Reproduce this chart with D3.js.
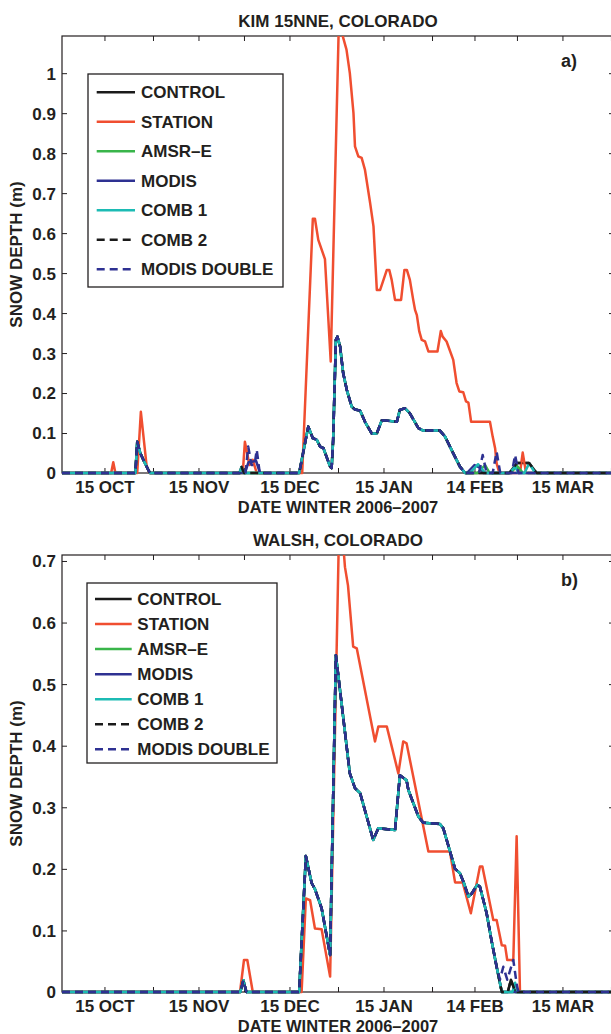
<!DOCTYPE html>
<html><head><meta charset="utf-8">
<script src="https://cdn.jsdelivr.net/npm/d3@7"></script>
<style>
body{margin:0;background:#fff;}
text{font-family:"Liberation Sans",Arial,Helvetica,sans-serif;font-weight:bold;fill:#231f20;}
</style></head><body>
<svg id="c" width="611" height="1034"></svg>
<script>
// ---------------- DATA ----------------
const seasonStart = "2006-10-01";   // day 0 of the day offsets below
const seasonEnd = "2007-04-01";
const seriesNames = ["CONTROL","STATION","AMSR\u2013E","MODIS","COMB 1","COMB 2","MODIS DOUBLE"];
const seriesColors = ["#1a1a1a","#f04e30","#39b54a","#2e3192","#1cbbb4","#1a1a1a","#2e3192"];
const seriesDash = [null,null,null,null,null,"8,5","8,5"];

const xTickDates = ["2006-10-15","2006-10-31","2006-11-15","2006-11-30","2006-12-15","2006-12-31","2007-01-15","2007-01-31","2007-02-14","2007-02-28","2007-03-15","2007-03-31"];
const xTickLabels = ["15 OCT","","15 NOV","","15 DEC","","15 JAN","","14 FEB","","15 MAR",""];
const yTicksTop = [0,0.1,0.2,0.3,0.4,0.5,0.6,0.7,0.8,0.9,1];
const yTickLabelsTop = ["0","0.1","0.2","0.3","0.4","0.5","0.6","0.7","0.8","0.9","1"];
const yTicksBot = [0,0.1,0.2,0.3,0.4,0.5,0.6,0.7];
const yTickLabelsBot = ["0","0.1","0.2","0.3","0.4","0.5","0.6","0.7"];

// a) KIM 15NNE — station
const topStationDay = [0,16.2,16.9,17.6,24.8,26,27.9,28.8,59.6,60.3,61.8,62.9,64.2,79.2,82.7,83.4,84.5,86.7,88.6,91.2,92.3,93.8,94.9,96.1,96.6,97.7,98.8,99.9,101.6,102.7,103.8,104.9,107.1,107.9,108.7,109.8,111.8,112.9,113.7,114.7,115.8,116.4,117,117.8,118.6,119.7,120.8,123.8,124.9,125.5,126.8,129,130.1,131,132.3,133.2,134,134.9,141.1,142,142.8,143.3,144.2,151,151.9,153,181];
const topStationVal = [0,0,0.027,0,0,0.153,0.018,0,0,0.078,0.02,0.033,0,0,0.636,0.636,0.583,0.535,0.279,1.10,1.10,1.059,1.0,0.9,0.817,0.792,0.788,0.758,0.675,0.617,0.458,0.458,0.508,0.508,0.483,0.433,0.433,0.508,0.508,0.483,0.433,0.408,0.395,0.354,0.333,0.329,0.304,0.304,0.355,0.341,0.329,0.283,0.225,0.204,0.202,0.179,0.176,0.128,0.128,0.091,0.062,0.024,0,0,0.051,0,0];
// a) model runs — common trace
const topModelDay = [0,24.2,24.8,25.8,27,28.3,29,78.2,81.2,82.7,84,85.1,86.2,88.4,88.9,89.4,90.3,90.8,91.7,92.7,93.9,95.5,96.6,98.3,99.9,102.1,103.8,105.4,107.1,110.4,111.4,113.1,114.7,117.5,119.1,124.6,126.3,129,131.2,132.9];
const topModelVal = [0,0,0.078,0.05,0.03,0.01,0,0,0.116,0.087,0.083,0.066,0.062,0.016,0.012,0.083,0.333,0.341,0.316,0.25,0.208,0.166,0.159,0.156,0.128,0.099,0.099,0.131,0.131,0.128,0.158,0.162,0.149,0.112,0.106,0.106,0.091,0.049,0.016,0];
// a) model runs — where they differ
const topControlDay = [58.5,59.2,60,147.5,150,154,156.5,181];
const topControlVal = [0,0.015,0,0,0.025,0.025,0,0];
const topAmsrDay = [137,139.5,141,148,150,152,181];
const topAmsrVal = [0,0.02,0,0,0.018,0,0];
const topModisDay = [60.3,61.5,64,65.3,133.5,136,138,139,181];
const topModisVal = [0,0.027,0.03,0,0,0.02,0.012,0,0];
const topComb1Day = [58.5,59.2,60,134.5,137.2,139.5,147.5,149.4,150.5,152.5,154,156,181];
const topComb1Val = [0,0.015,0,0,0.022,0,0,0.016,0,0,0.024,0,0];
const topComb2Day = [58.5,59.2,60,147.5,150,154,156.5,181];
const topComb2Val = [0,0.015,0,0,0.025,0.025,0,0];
const topDoubleDay = [60.5,61.4,62.5,63.5,64.2,65.2,137.5,138.7,140,142,143.3,144.5,148.3,149.4,150.5,181];
const topDoubleVal = [0,0.066,0.02,0.02,0.058,0,0,0.045,0,0,0.053,0,0,0.045,0,0];

// b) WALSH — station
const botStationDay = [0,58.7,60,61.1,62.9,79,80.4,81.8,83.4,85.6,88.4,91.3,92.5,93.3,94.3,96,97.2,103.2,104.3,107.1,110.9,112.5,113.6,120.8,127.9,129.6,132.1,134.8,137.8,138.6,142.2,143.3,145,146.1,146.8,148.8,149.9,151,181];
const botStationVal = [0,0,0.052,0.052,0,0,0.152,0.149,0.103,0.102,0.025,0.74,0.74,0.69,0.66,0.561,0.558,0.407,0.431,0.431,0.355,0.407,0.404,0.228,0.228,0.178,0.178,0.128,0.204,0.204,0.117,0.117,0.076,0.075,0.052,0.052,0.253,0,0];
// b) model runs — common trace
const botModelDay = [0,58.8,59.8,60.8,78.2,80.4,82.3,83.4,85.6,88.4,90.3,94.9,96.6,98.3,102.6,104.3,109.8,111.4,113.6,114.2,117.5,119.1,124.6,125.7,129.6,131.2,132.5,134,135.1,136.9,137.8,140,141.6,143.3];
const botModelVal = [0,0,0.019,0,0,0.221,0.177,0.167,0.136,0.06,0.547,0.355,0.331,0.323,0.247,0.266,0.263,0.352,0.344,0.328,0.285,0.275,0.273,0.266,0.2,0.193,0.177,0.155,0.16,0.174,0.171,0.128,0.084,0.041];
// b) model runs — where they differ
const botControlDay = [145,147,148,149.5,181];
const botControlVal = [0,0,0.02,0,0];
const botAmsrDay = [145,181];
const botAmsrVal = [0,0];
const botModisDay = [145,181];
const botModisVal = [0,0];
const botComb1Day = [145,148.5,149.4,150.3,181];
const botComb1Val = [0,0,0.015,0,0];
const botComb2Day = [145,147,148,149.5,181];
const botComb2Val = [0,0,0.02,0,0];
const botDoubleDay = [144.4,145.5,146.8,148.8,150,150.5,181];
const botDoubleVal = [0.02,0.041,0.02,0.052,0.01,0,0];

// ---------------- BUILD ----------------
const t0 = Date.parse(seasonStart + "T00:00:00Z");
const toDate = d => new Date(t0 + d * 864e5);
const zip = (ds, vs) => ds.map((d, i) => ({date: toDate(d), day: d, v: vs[i]}));
const merge = (cd, cv, ed, ev) => zip(cd.concat(ed), cv.concat(ev)).sort((a, b) => a.day - b.day);

const panels = [
  {
    title: "KIM 15NNE, COLORADO", tag: "a)", top: 36, bottom: 473, ymax: 1.093,
    yTicks: yTicksTop, yLabels: yTickLabelsTop,
    legend: {x: 88, y: 74, w: 195, h: 213, first: 92.3, step: 29.5, lx0: 96.7, lx1: 135, tx: 141},
    series: [
      merge(topModelDay, topModelVal, topControlDay, topControlVal),
      zip(topStationDay, topStationVal),
      merge(topModelDay, topModelVal, topAmsrDay, topAmsrVal),
      merge(topModelDay, topModelVal, topModisDay, topModisVal),
      merge(topModelDay, topModelVal, topComb1Day, topComb1Val),
      merge(topModelDay, topModelVal, topComb2Day, topComb2Val),
      merge(topModelDay, topModelVal, topDoubleDay, topDoubleVal)
    ]
  },
  {
    title: "WALSH, COLORADO", tag: "b)", top: 555, bottom: 992, ymax: 0.7097,
    yTicks: yTicksBot, yLabels: yTickLabelsBot,
    legend: {x: 87, y: 583, w: 190, h: 180, first: 599, step: 25.05, lx0: 95, lx1: 131.7, tx: 137.3},
    series: [
      merge(botModelDay, botModelVal, botControlDay, botControlVal),
      zip(botStationDay, botStationVal),
      merge(botModelDay, botModelVal, botAmsrDay, botAmsrVal),
      merge(botModelDay, botModelVal, botModisDay, botModisVal),
      merge(botModelDay, botModelVal, botComb1Day, botComb1Val),
      merge(botModelDay, botModelVal, botComb2Day, botComb2Val),
      merge(botModelDay, botModelVal, botDoubleDay, botDoubleVal)
    ]
  }
];

const svg = d3.select("#c");
const X0 = 62, X1 = 614;
const x = d3.scaleUtc()
  .domain([new Date(Date.parse(seasonStart + "T00:00:00Z")), new Date(Date.parse(seasonEnd + "T00:00:00Z"))])
  .range([X0, X1]);
const tickDates = xTickDates.map(s => new Date(Date.parse(s + "T00:00:00Z")));
const FS = 17;

panels.forEach((p, pi) => {
  const y = d3.scaleLinear().domain([0, p.ymax]).range([p.bottom, p.top]);
  const g = svg.append("g");
  const TL = 5;

  // ticks (inward, all four sides)
  const bAxis = d3.axisBottom(x).tickValues(tickDates).tickFormat((d, i) => xTickLabels[i]).tickSize(-TL).tickPadding(7.5);
  const tAxis = d3.axisTop(x).tickValues(tickDates).tickFormat("").tickSize(-TL);
  const lAxis = d3.axisLeft(y).tickValues(p.yTicks).tickFormat((d, i) => p.yLabels[i]).tickSize(-TL).tickPadding(6);
  const rAxis = d3.axisRight(y).tickValues(p.yTicks).tickFormat("").tickSize(-TL);
  const axes = [
    g.append("g").attr("transform", `translate(0,${p.bottom})`).call(bAxis),
    g.append("g").attr("transform", `translate(0,${p.top})`).call(tAxis),
    g.append("g").attr("transform", `translate(${X0},0)`).call(lAxis),
    g.append("g").attr("transform", `translate(${X1},0)`).call(rAxis)
  ];
  axes.forEach(a => {
    a.select(".domain").remove();
    a.selectAll("line").attr("stroke", "#231f20").attr("stroke-width", 1);
    a.selectAll("text").style("font-size", FS + "px").attr("fill", "#231f20")
      .style("font-family", '"Liberation Sans",Arial,sans-serif').style("font-weight", "bold");
  });
  axes[0].selectAll("text").attr("dy", "0.71em");
  axes[2].selectAll("text").attr("dy", "0.35em");

  // frame
  g.append("rect").attr("x", X0).attr("y", p.top).attr("width", X1 - X0).attr("height", p.bottom - p.top)
    .attr("fill", "none").attr("stroke", "#231f20").attr("stroke-width", 1.2);

  // lines
  const clipId = "clip" + pi;
  svg.append("clipPath").attr("id", clipId).append("rect")
    .attr("x", X0).attr("y", p.top).attr("width", X1 - X0).attr("height", p.bottom - p.top + 3);
  const line = d3.line().x(d => x(d.date)).y(d => y(d.v));
  const lg = g.append("g").attr("clip-path", `url(#${clipId})`);
  p.series.forEach((s, i) => {
    lg.append("path").datum(s).attr("d", line).attr("fill", "none")
      .attr("stroke", seriesColors[i]).attr("stroke-width", 2.5)
      .attr("stroke-linejoin", "round")
      .attr("stroke-dasharray", seriesDash[i]);
  });

  // title, tag, labels
  g.append("text").attr("x", (X0 + 614) / 2).attr("y", p.top - 9.5).attr("text-anchor", "middle")
    .style("font-size", FS + "px").text(p.title);
  g.append("text").attr("x", 561).attr("y", p.top + 31).style("font-size", "18px").text(p.tag);
  g.append("text").attr("x", 338).attr("y", p.bottom + 39.5).attr("text-anchor", "middle")
    .style("font-size", "16.5px").text("DATE WINTER 2006\u20132007");
  g.append("text").attr("transform", `translate(22,${(p.top + p.bottom) / 2}) rotate(-90)`)
    .attr("text-anchor", "middle").style("font-size", FS + "px").text("SNOW DEPTH (m)");

  // legend
  const L = p.legend;
  const lgd = g.append("g");
  lgd.append("rect").attr("x", L.x).attr("y", L.y).attr("width", L.w).attr("height", L.h)
    .attr("fill", "#fff").attr("stroke", "#231f20").attr("stroke-width", 1.3);
  seriesNames.forEach((n, i) => {
    const yy = L.first + i * L.step;
    lgd.append("line").attr("x1", L.lx0).attr("x2", L.lx1).attr("y1", yy).attr("y2", yy)
      .attr("stroke", seriesColors[i]).attr("stroke-width", 2.5).attr("stroke-dasharray", seriesDash[i]);
    lgd.append("text").attr("x", L.tx).attr("y", yy).attr("dy", "0.36em").style("font-size", FS + "px").text(n);
  });
});
</script></body></html>
